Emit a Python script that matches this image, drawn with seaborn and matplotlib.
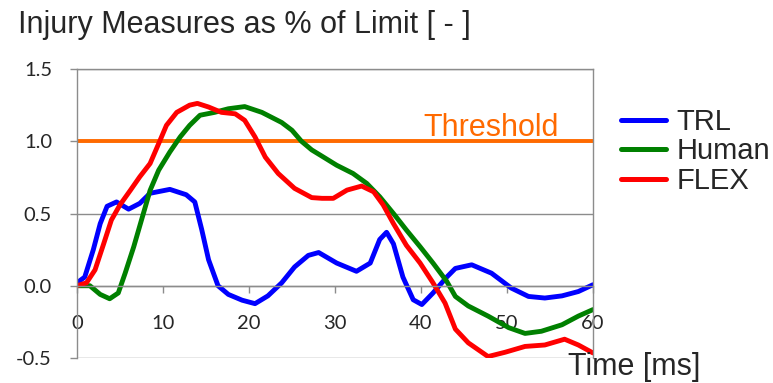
import pandas as pd
import matplotlib.pyplot as plt
import seaborn as sns
from matplotlib.lines import Line2D

# ---- data ----
trl_t = [0, 0.9, 1.9, 2.7, 3.5, 4.6, 6.0, 7.3, 8.5, 10.8, 12.7, 13.7, 14.5, 15.3, 16.4, 17.6, 19.2,
         20.7, 22.2, 23.8, 25.3, 26.9, 28.1, 30.2, 32.5, 34.1, 35.2, 36.0, 36.8, 37.9, 39.1, 40.1,
         41.4, 43.0, 44.0, 45.9, 48.2, 50.5, 52.5, 54.4, 56.4, 58.3, 60]
trl_v = [0.02, 0.06, 0.25, 0.43, 0.55, 0.58, 0.53, 0.57, 0.64, 0.667, 0.63, 0.58, 0.39, 0.18, 0.0,
         -0.06, -0.10, -0.124, -0.07, 0.02, 0.13, 0.21, 0.23, 0.157, 0.10, 0.157, 0.32, 0.37, 0.29,
         0.06, -0.097, -0.13, -0.05, 0.06, 0.12, 0.145, 0.087, -0.016, -0.074, -0.085, -0.07, -0.04, 0.007]

human_t = [0, 1.5, 2.7, 3.8, 4.8, 5.6, 6.6, 7.5, 8.5, 9.5, 10.8, 12.0, 13.1, 14.3, 16.0, 17.6, 19.5,
           21.5, 23.8, 25.0, 26.1, 27.3, 28.4, 30.2, 32.1, 33.7, 35.2, 36.8, 38.3, 39.9, 41.4, 43.0,
           44.0, 45.5, 47.8, 50.2, 52.1, 54.0, 56.4, 58.3, 60]
human_v = [0.0, 0.0, -0.06, -0.09, -0.05, 0.087, 0.27, 0.455, 0.66, 0.80, 0.926, 1.03, 1.11, 1.18,
           1.20, 1.225, 1.24, 1.20, 1.13, 1.076, 1.0, 0.94, 0.90, 0.834, 0.777, 0.708, 0.616, 0.50,
           0.386, 0.27, 0.157, 0.03, -0.074, -0.14, -0.21, -0.29, -0.33, -0.315, -0.27, -0.21, -0.165]

flex_t = [0, 1.1, 2.1, 3.1, 4.0, 5.0, 6.2, 7.3, 8.5, 9.5, 10.4, 11.6, 13.1, 14.0, 15.3, 16.8, 18.4,
          19.5, 20.7, 21.9, 23.4, 25.3, 27.3, 28.5, 29.8, 31.4, 33.1, 34.5, 35.6, 36.8, 38.3, 39.9,
          41.4, 42.8, 44.0, 45.5, 47.8, 49.8, 52.1, 54.4, 56.7, 58.3, 60]
flex_v = [0.0, 0.02, 0.11, 0.29, 0.455, 0.56, 0.66, 0.754, 0.846, 0.984, 1.11, 1.20, 1.25, 1.262,
          1.237, 1.20, 1.19, 1.145, 1.03, 0.89, 0.777, 0.674, 0.61, 0.605, 0.605, 0.662, 0.69, 0.65,
          0.56, 0.43, 0.28, 0.157, 0.02, -0.12, -0.30, -0.395, -0.49, -0.46, -0.42, -0.41, -0.37,
          -0.41, -0.465]

threshold_t = [0, 60]
threshold_v = [1.0, 1.0]

series_names = ["TRL", "Human", "FLEX"]
series_colors = ["#0000FF", "#008000", "#FF0000"]
x_ticks = [0, 10, 20, 30, 40, 50, 60]
y_ticks = [-0.5, 0.0, 0.5, 1.0, 1.5]
y_labels = ["-0.5", "0.0", "0.5", "1.0", "1.5"]

sns.set_style("white")
plt.rcParams['font.family'] = ['Liberation Sans', 'DejaVu Sans']

fig = plt.figure(figsize=(7.73, 3.83), dpi=100)
ax = fig.add_axes([0.0996, 0.0653, 0.6675, 0.7545])

gray = "#8C8C8C"
sns.lineplot(x=threshold_t, y=threshold_v, color="#FF6A00", linewidth=2.8, ax=ax)
for t, v, c in zip([trl_t, human_t, flex_t], [trl_v, human_v, flex_v], series_colors):
    sns.lineplot(x=t, y=v, color=c, linewidth=3.5, estimator=None, sort=False, ax=ax,
                 solid_joinstyle='round', solid_capstyle='round')

ax.set_xlim(0, 60)
ax.set_ylim(-0.5, 1.5)
ax.set_xticks(x_ticks)
ax.set_yticks(y_ticks)
ax.set_yticklabels(y_labels)
ax.set_xlabel("")
ax.set_ylabel("")

ax.grid(axis='y', color=gray, linewidth=1.0)
ax.set_axisbelow(True)
for s in ['left', 'right', 'top', 'bottom']:
    ax.spines[s].set_color(gray)
    ax.spines[s].set_linewidth(1.0)
ax.spines['bottom'].set_position(('data', 0))
ax.tick_params(axis='both', direction='out', color=gray, length=5, width=1.0,
               labelsize=14.5, bottom=True, left=True)
ax.tick_params(axis='y', pad=13)
ax.tick_params(axis='x', pad=16)
for lab in ax.get_xticklabels() + ax.get_yticklabels():
    lab.set_family('Lato')

# texts
fig.text(18 / 773, 1 - 33.5 / 383, "Injury Measures as % of Limit [ - ]", fontsize=22,
         ha='left', va='baseline')
fig.text(568 / 773, 1 - 375 / 383, "Time [ms]", fontsize=22, ha='left', va='baseline')
ax.text(40.3, 1.035, "Threshold", fontsize=22, color="#FF6A00", ha='left', va='baseline')

handles = [Line2D([0], [0], color=c, linewidth=3.6) for c in series_colors]
fig.legend(handles, series_names, loc='center left', bbox_to_anchor=(621 / 773, 1 - 151.5 / 383),
           frameon=False, fontsize=21, handlelength=1.55, handletextpad=0.36,
           labelspacing=0.05, borderpad=0, borderaxespad=0)

plt.savefig("out.png", dpi=100)
